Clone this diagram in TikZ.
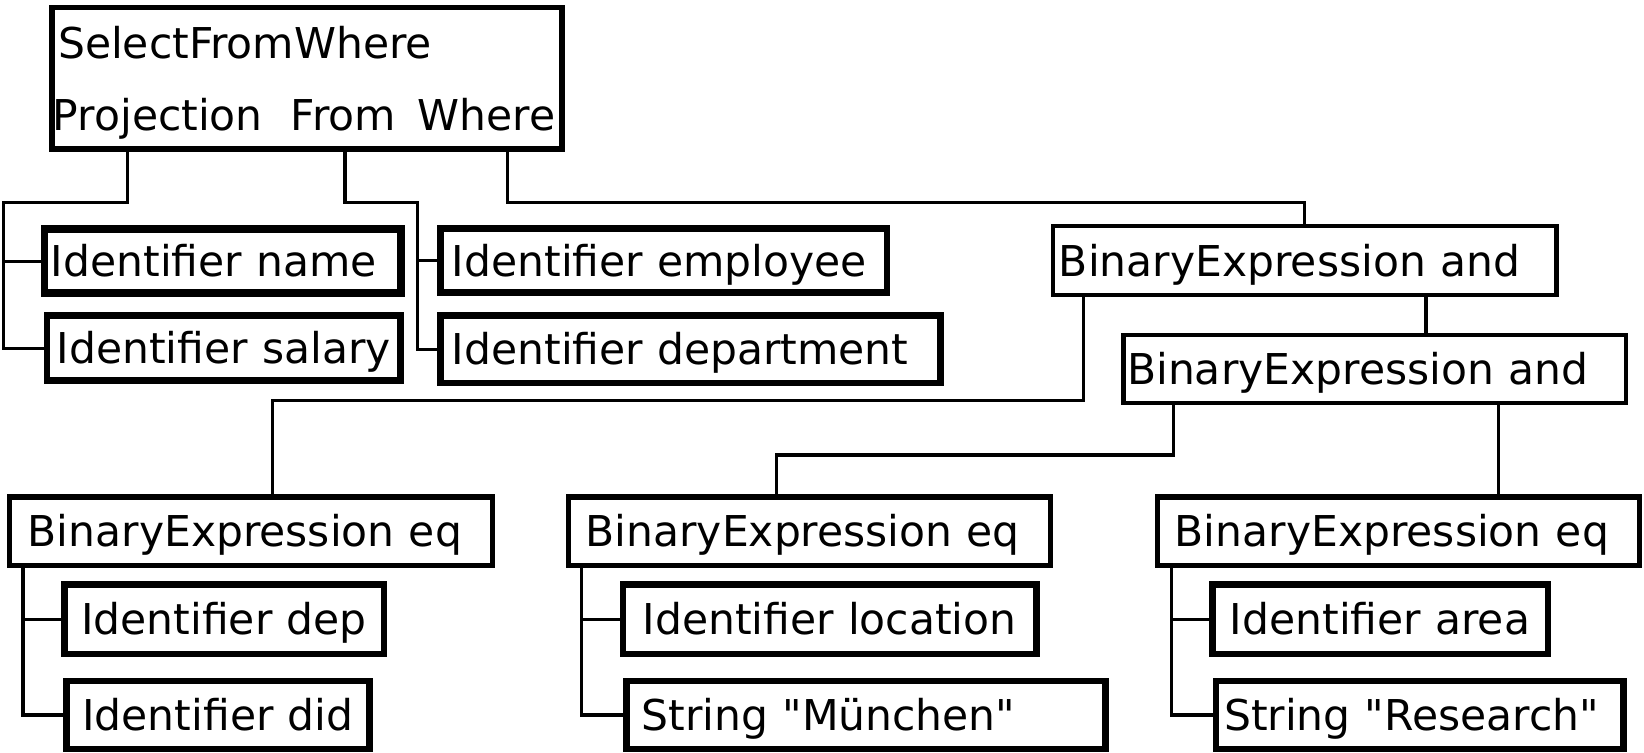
\documentclass[tikz,border=0pt]{standalone}
\usepackage{fontspec}
\setmainfont{DejaVu Sans}

\begin{document}
\begin{tikzpicture}[x=0.5pt, y=-0.5pt,
  astbox/.style={draw, anchor=north west, align=left, inner ysep=0pt,
    text height=14.8pt, text depth=0pt, font=\fontsize{20.25pt}{24pt}\selectfont},
  leafbox/.style={astbox, line width=3pt},
  exprbox/.style={astbox, line width=2.5pt},
  andbox/.style={astbox, line width=2pt},
  lbl/.style={anchor=base west, inner sep=0pt, font=\fontsize{20.25pt}{24pt}\selectfont},
  wire/.style={line width=1.5pt}]
\useasboundingbox (0,0) rectangle (1568,718);

% root
\node[draw, line width=2.75pt, anchor=north west, minimum width=243.5pt, minimum height=67.5pt, inner sep=0pt] (root) at (46.5,4.5) {};
\node[lbl] (title) at (55,56) {SelectFromWhere};
\node[lbl] (proj) at (50,124) {Projection};
\node[lbl] (frm) at (277,124) {From};
\node[lbl] (whr) at (398,124) {Where};

% projection / from
\node[leafbox, line width=3.5pt, minimum height=30.5pt, text width=164pt, inner xsep=3pt] (name) at (39,215) {Identifier name};
\node[leafbox, minimum height=31pt, text width=159.5pt, inner xsep=4.5pt] (salary) at (42,298) {Identifier salary};
\node[leafbox, minimum height=30.5pt, text width=202pt, inner xsep=5.5pt] (employee) at (417,215) {Identifier employee};
\node[leafbox, minimum height=32pt, text width=227.5pt, inner xsep=5.5pt] (department) at (417,298) {Identifier department};

% where
\node[andbox, minimum height=33pt, text width=234.5pt, inner xsep=2.75pt] (and1) at (1002.5,213.5) {BinaryExpression and};
\node[andbox, minimum height=32.5pt, text width=236pt, inner xsep=1.75pt] (and2) at (1069.5,317.5) {BinaryExpression and};

\node[exprbox, minimum height=32.5pt, text width=213pt, inner xsep=8.75pt] (eq1) at (6.5,471.5) {BinaryExpression eq};
\node[exprbox, minimum height=32.5pt, text width=213.5pt, inner xsep=8.25pt] (eq2) at (539.5,471.5) {BinaryExpression eq};
\node[exprbox, minimum height=32.5pt, text width=213.5pt, inner xsep=8.25pt] (eq3) at (1101.5,471.5) {BinaryExpression eq};

\node[leafbox, minimum height=33pt, text width=136.5pt, inner xsep=8pt] (dep) at (58.5,554.5) {Identifier dep};
\node[leafbox, minimum height=32.5pt, text width=129.5pt, inner xsep=7.5pt] (did) at (60.5,646.5) {Identifier did};
\node[leafbox, minimum height=33pt, text width=178.5pt, inner xsep=9.25pt] (location) at (591.5,554.5) {Identifier location};
\node[leafbox, minimum height=32.5pt, text width=214pt, inner xsep=7.25pt] (muenchen) at (594.5,646.5) {String \textquotedbl München\textquotedbl};
\node[leafbox, minimum height=33pt, text width=143.5pt, inner xsep=8.25pt] (area) at (1153.5,554.5) {Identifier area};
\node[leafbox, minimum height=32.5pt, text width=186.5pt, inner xsep=4pt] (research) at (1156.5,646.5) {String \textquotedbl Research\textquotedbl};

% bends
\coordinate (pj) at (122,193);
\coordinate (pb) at (3,193);
\coordinate (fj) at (329,193);
\coordinate (fb) at (398,193);
\coordinate (wj) at (484,193);
\coordinate (aj) at (1360,300);
\coordinate (a1e) at (1033,382);
\coordinate (e1j) at (260,382);
\coordinate (a2e) at (1119,434);
\coordinate (e2j) at (741,434);
\coordinate (a2f) at (1429,450);
\coordinate (e1b) at (22,600);
\coordinate (e2b) at (555,600);
\coordinate (e3b) at (1117,600);

\draw[wire] (root.south -| pj) -- (pj) -- (pb) |- (salary.west);
\draw[wire] (pb |- name.west) -- (name.west);
\draw[wire] (root.south -| fj) -- (fj) -- (fb) |- (department.west);
\draw[wire] (fb |- employee.west) -- (employee.west);
\draw[wire] (root.south -| wj) -- (wj) -| (and1.north);

\draw[wire] (and1.south -| aj) -- (and2.north -| aj);
\draw[wire] (and1.south -| a1e) -- (a1e) -- (e1j) -- (eq1.north -| e1j);
\draw[wire] (and2.south -| a2e) -- (a2e) -- (e2j) -- (eq2.north -| e2j);
\draw[wire] (and2.south -| a2f) -- (eq3.north -| a2f);

\draw[wire] (eq1.south -| e1b) |- (did.west);
\draw[wire] (dep.west -| e1b) -- (dep.west);
\draw[wire] (eq2.south -| e2b) |- (muenchen.west);
\draw[wire] (location.west -| e2b) -- (location.west);
\draw[wire] (eq3.south -| e3b) |- (research.west);
\draw[wire] (area.west -| e3b) -- (area.west);

\end{tikzpicture}
\end{document}
